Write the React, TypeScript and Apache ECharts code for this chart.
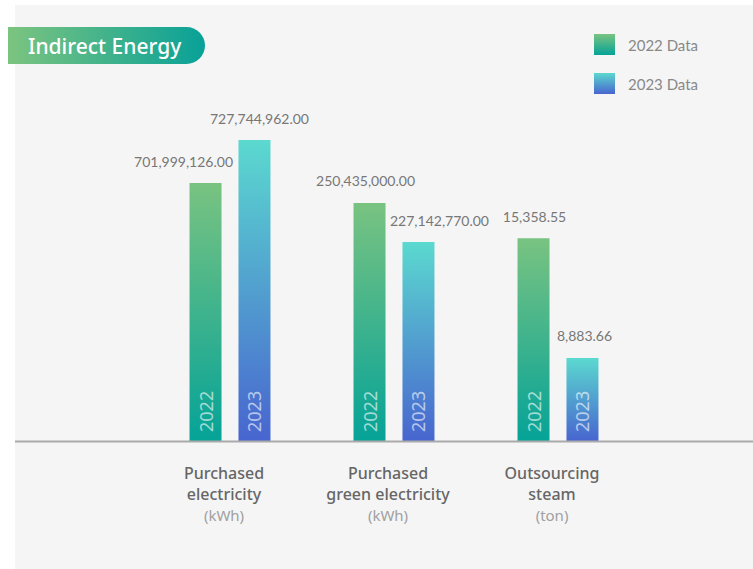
import React, { useEffect, useRef } from "react";
import * as echarts from "echarts";

// ---- data ----
const categoryLines: string[][] = [
  ["Purchased", "electricity"],
  ["Purchased", "green electricity"],
  ["Outsourcing", "steam"],
];
const units = ["(kWh)", "(kWh)", "(ton)"];
const categories = categoryLines.map((l) => l.join(" "));

const values2022 = [701999126.0, 250435000.0, 15358.55];
const values2023 = [727744962.0, 227142770.0, 8883.66];

// relative displayed bar heights (index, tallest bar = 100), as drawn in the reference
const barHeight2022 = [85.7, 79.1, 67.4];
const barHeight2023 = [100, 66.1, 27.6];

const yearLabels = ["2022", "2023"];
const legendNames = ["2022 Data", "2023 Data"];
const titleText = "Indirect Energy";

// horizontal nudges of the value labels as laid out in the reference
const labelShift2022 = [-22, -4, 1];
const labelShift2023 = [5, 21, 2];

const fmt = (v: number) =>
  v.toLocaleString("en-US", { minimumFractionDigits: 2, maximumFractionDigits: 2 });

const grad2022 = () =>
  new echarts.graphic.LinearGradient(0, 0, 0, 1, [
    { offset: 0, color: "#79c381" },
    { offset: 1, color: "#05a398" },
  ]);
const grad2023 = () =>
  new echarts.graphic.LinearGradient(0, 0, 0, 1, [
    { offset: 0, color: "#5bd9cf" },
    { offset: 1, color: "#4865cf" },
  ]);

export default function App() {
  const ref = useRef<HTMLDivElement>(null);

  useEffect(() => {
    if (!ref.current) return;
    const chart = echarts.init(ref.current, undefined, { renderer: "svg" });

    const insideLabel = (txt: string) => ({
      show: true,
      position: "insideBottom",
      distance: 9,
      rotate: 90,
      align: "left",
      verticalAlign: "middle",
      formatter: txt,
      color: "rgba(255,255,255,0.62)",
      fontSize: 18,
      fontFamily: "Noto Sans",
    });

    const valueLabelSeries = (
      stack: string,
      values: number[],
      shifts: number[],
      name: string
    ) => ({
      type: "bar",
      name,
      stack,
      barWidth: 32,
      barGap: "53%",
      silent: true,
      itemStyle: { color: "transparent" },
      data: values.map((v, i) => ({
        value: 0,
        label: {
          show: true,
          position: "top",
          distance: 15,
          offset: [shifts[i], 0],
          formatter: fmt(v),
          color: "#777",
          fontSize: 14,
          fontFamily: "Lato",
        },
      })),
      z: 3,
    });

    chart.setOption({
      animation: false,
      backgroundColor: "transparent",
      grid: { left: 148, right: 113, top: 140, bottom: 128 },
      legend: {
        data: legendNames,
        orient: "vertical",
        left: 594,
        top: 34,
        padding: 0,
        itemWidth: 21,
        itemHeight: 21,
        itemGap: 18,
        icon: "rect",
        selectedMode: false,
        textStyle: {
          color: "#888",
          fontSize: 15,
          fontFamily: "Lato",
          padding: [0, 0, 0, 8],
        },
      },
      xAxis: {
        type: "category",
        data: categories,
        axisLine: { show: false },
        axisTick: { show: false },
        axisLabel: {
          margin: 21,
          interval: 0,
          padding: [0, 12, 0, 0],
          formatter: (_v: string, idx: number) =>
            categoryLines[idx].map((l) => `{a|${l}}`).join("\n") + `\n{b|${units[idx]}}`,
          rich: {
            a: {
              fontFamily: "Noto Sans",
              fontSize: 16,
              fontWeight: 500,
              color: "#666",
              lineHeight: 21,
              align: "center",
            },
            b: {
              fontFamily: "Noto Sans",
              fontSize: 15,
              color: "#a0a0a0",
              lineHeight: 21,
              align: "center",
            },
          },
        },
      },
      yAxis: { type: "value", min: 0, max: 100, show: false },
      series: [
        {
          type: "bar",
          name: legendNames[0],
          stack: "a",
          barWidth: 32,
          barGap: "53%",
          itemStyle: { color: grad2022() },
          label: insideLabel(yearLabels[0]),
          data: barHeight2022,
          z: 2,
        },
        valueLabelSeries("a", values2022, labelShift2022, "_v2022"),
        {
          type: "bar",
          name: legendNames[1],
          stack: "b",
          barWidth: 32,
          barGap: "53%",
          itemStyle: { color: grad2023() },
          label: insideLabel(yearLabels[1]),
          data: barHeight2023,
          z: 2,
        },
        valueLabelSeries("b", values2023, labelShift2023, "_v2023"),
      ],
      graphic: [
        {
          type: "rect",
          z: -10,
          silent: true,
          shape: { x: 15, y: 5, width: 738, height: 564 },
          style: { fill: "#f5f5f5" },
        },
        {
          type: "rect",
          z: 5,
          shape: { x: 8, y: 27, width: 197, height: 37, r: [0, 18.5, 18.5, 0] },
          style: {
            fill: new echarts.graphic.LinearGradient(0, 0, 1, 0, [
              { offset: 0, color: "#7cc47f" },
              { offset: 1, color: "#08a198" },
            ]),
          },
        },
        {
          type: "text",
          z: 6,
          x: 28,
          y: 46,
          style: {
            text: titleText,
            fill: "#ffffff",
            fontSize: 21,
            fontFamily: "Noto Sans",
            fontWeight: 500,
            verticalAlign: "middle",
          },
        },
        {
          type: "line",
          z: 100,
          silent: true,
          shape: { x1: 15, y1: 441.5, x2: 753, y2: 441.5 },
          style: { stroke: "#aaaaaa", lineWidth: 2 },
        },
      ],
    });

    return () => chart.dispose();
  }, []);

  return (
    <div
      ref={ref}
      style={{ position: "absolute", left: 0, top: 0, width: 753, height: 569 }}
    />
  );
}
